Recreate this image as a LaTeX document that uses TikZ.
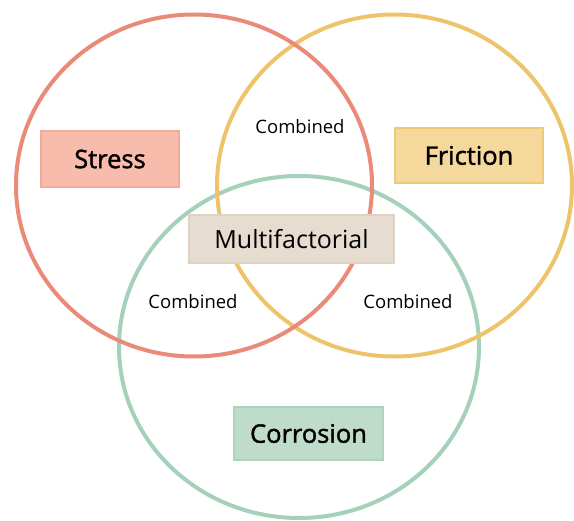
\documentclass[tikz,border=0pt]{standalone}
\usepackage{fontspec}
\setmainfont{Open Sans}
\definecolor{redc}{HTML}{EA8B79}
\definecolor{yelc}{HTML}{EDC46A}
\definecolor{grnc}{HTML}{A5D1BB}
\definecolor{redf}{HTML}{F8BCAD}
\definecolor{redb}{HTML}{F4AA99}
\definecolor{yelf}{HTML}{F5D89B}
\definecolor{yelb}{HTML}{EEC976}
\definecolor{mulf}{HTML}{E6DDD0}
\definecolor{mulb}{HTML}{DDD2C3}
\definecolor{grnf}{HTML}{BFDCCB}
\definecolor{grnb}{HTML}{AED3BD}
\tikzset{
  ring/.style={line width=4pt},
  factor/.style={draw, line width=1.2pt, inner sep=0pt, font=\fontsize{25.5}{30}\selectfont\addfontfeatures{FakeBold=1.6}},
  combo/.style={font=\fontsize{18.5}{22}\selectfont, inner sep=0pt}
}
\begin{document}
\begin{tikzpicture}[x=1pt,y=-1pt]
\useasboundingbox (0,0) rectangle (574,521);
\draw[ring, grnc] (299,347) ellipse [x radius=180, y radius=171];
\draw[ring, yelc] (394.5,185.5) ellipse [x radius=177.5, y radius=171];
\draw[ring, redc] (194,185.5) ellipse [x radius=178, y radius=171];
\node[factor, fill=redf, draw=redb, minimum width=138pt, minimum height=56pt] (stress) at (110,159) {Stress};
\node[factor, fill=yelf, draw=yelb, minimum width=148pt, minimum height=55pt] (friction) at (469,155.5) {Friction};
\node[draw, line width=1.2pt, inner sep=0pt, fill=mulf, draw=mulb, minimum width=205pt, minimum height=48pt, font=\fontsize{25}{30}\selectfont] (multi) at (291.5,239) {Multifactorial};
\node[factor, fill=grnf, draw=grnb, minimum width=149pt, minimum height=53pt] (corrosion) at (308.5,433.5) {Corrosion};
\node[combo] (c1) at (300,127) {Combined};
\node[combo] (c2) at (193,302) {Combined};
\node[combo] (c3) at (408,302) {Combined};
\end{tikzpicture}
\end{document}
